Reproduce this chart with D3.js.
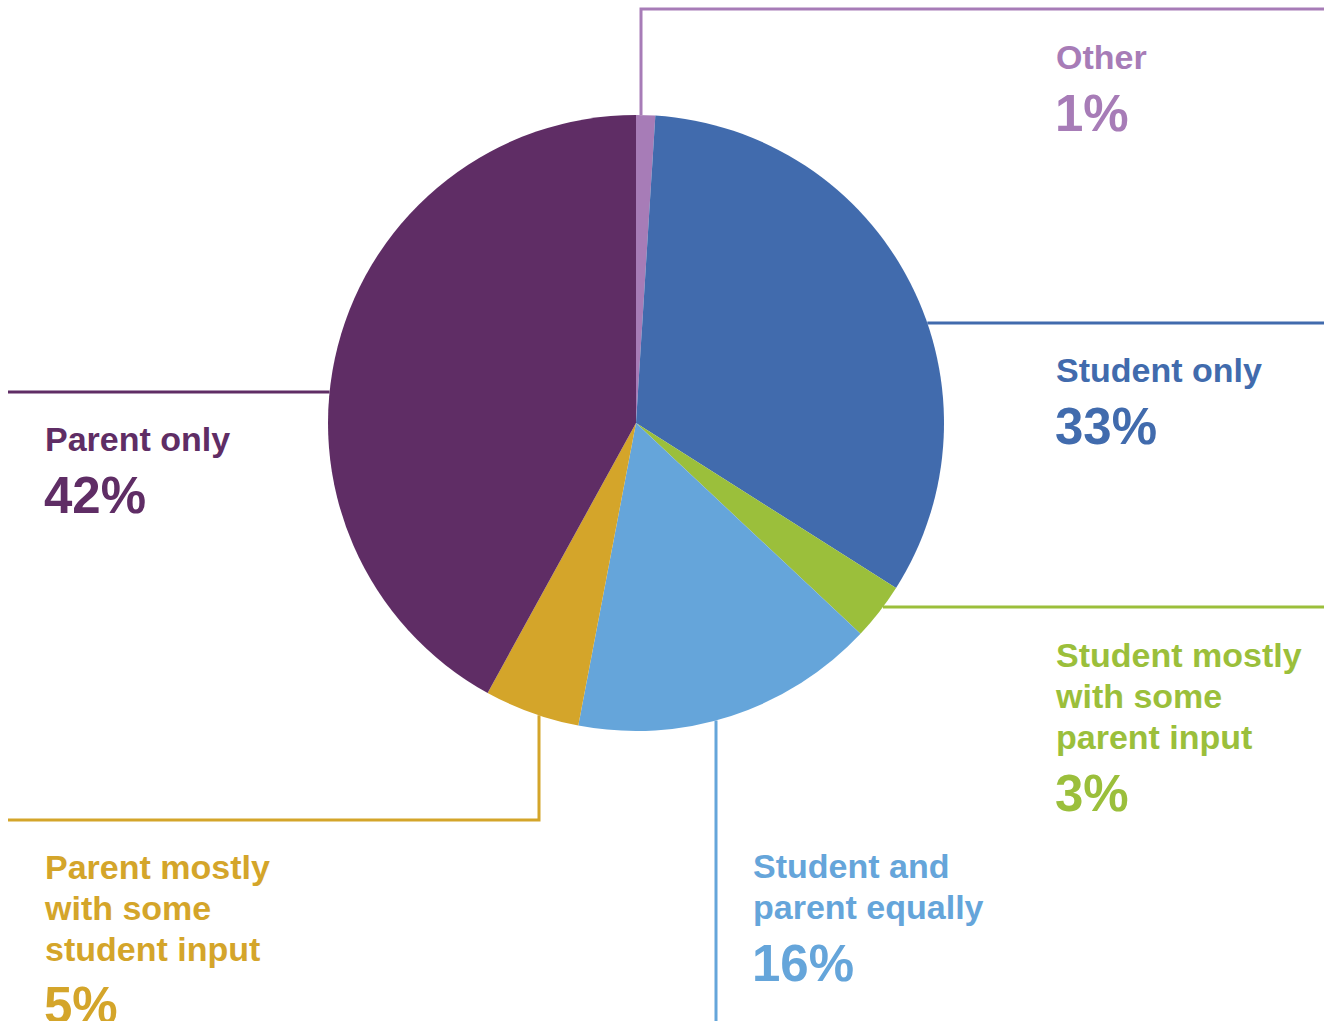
<!DOCTYPE html>
<html>
<head>
<meta charset="utf-8">
<script src="https://cdn.jsdelivr.net/npm/d3@7"></script>
<style>
html,body{margin:0;padding:0;background:#fff;}
svg{display:block;}
text{font-family:"Liberation Sans",Arial,sans-serif;font-weight:bold;}
</style>
</head>
<body>
<svg id="chart" width="1324" height="1021"></svg>
<script>
// ---- data ----
const categories = ["Other", "Student only", "Student mostly with some parent input",
  "Student and parent equally", "Parent mostly with some student input", "Parent only"];
const values = [1, 33, 3, 16, 5, 42];
const labelLines = [
  ["Other"],
  ["Student only"],
  ["Student mostly", "with some", "parent input"],
  ["Student and", "parent equally"],
  ["Parent mostly", "with some", "student input"],
  ["Parent only"]
];
const colors = ["#a77cb7", "#416bad", "#9bbf3b", "#65a5da", "#d4a52a", "#5f2d65"];

// ---- layout ----
const W = 1324, H = 1021;
const cx = 636, cy = 423, R = 308;
const labelPos = [
  {x: 1056, y: 69},
  {x: 1056, y: 382},
  {x: 1056, y: 667},
  {x: 753, y: 878},
  {x: 45, y: 879},
  {x: 45, y: 451}
];
// leader routes: type, coordinate of crossing, then path points after leaving pie
const leaders = [
  {dir: "up", x: 641, pts: [[641, 9], [1324, 9]]},
  {dir: "right", y: 323, pts: [[1324, 323]]},
  {dir: "right", y: 607, pts: [[1324, 607]]},
  {dir: "down", x: 716, pts: [[716, 1021]]},
  {dir: "down", x: 539, pts: [[539, 820], [8, 820]]},
  {dir: "left", y: 392, pts: [[8, 392]]}
];

const svg = d3.select("#chart");

// leader lines
leaders.forEach((l, i) => {
  let start;
  if (l.dir === "up") start = [l.x, cy - Math.sqrt(R * R - (l.x - cx) ** 2)];
  if (l.dir === "down") start = [l.x, cy + Math.sqrt(R * R - (l.x - cx) ** 2)];
  if (l.dir === "right") start = [cx + Math.sqrt(R * R - (l.y - cy) ** 2), l.y];
  if (l.dir === "left") start = [cx - Math.sqrt(R * R - (l.y - cy) ** 2), l.y];
  svg.append("path")
    .attr("d", d3.line()([start, ...l.pts]))
    .attr("fill", "none")
    .attr("stroke", colors[i])
    .attr("stroke-width", 3);
});

// pie
const pie = d3.pie().sort(null).value(d => d)(values);
const arc = d3.arc().innerRadius(0).outerRadius(R);
svg.append("g")
  .attr("transform", `translate(${cx},${cy})`)
  .selectAll("path")
  .data(pie)
  .join("path")
  .attr("d", arc)
  .attr("fill", (d, i) => colors[i]);

// labels
const lineH = 41;
categories.forEach((c, i) => {
  const p = labelPos[i];
  const g = svg.append("g").attr("fill", colors[i]);
  labelLines[i].forEach((t, j) => {
    g.append("text")
      .attr("x", p.x)
      .attr("y", p.y + j * lineH)
      .attr("font-size", 34)
      .text(t);
  });
  const n = labelLines[i].length;
  g.append("text")
    .attr("x", p.x - 1)
    .attr("y", p.y + (n - 1) * lineH + 62)
    .attr("font-size", 51)
    .text(d3.format("d")(values[i]) + "%");
});
</script>
</body>
</html>
